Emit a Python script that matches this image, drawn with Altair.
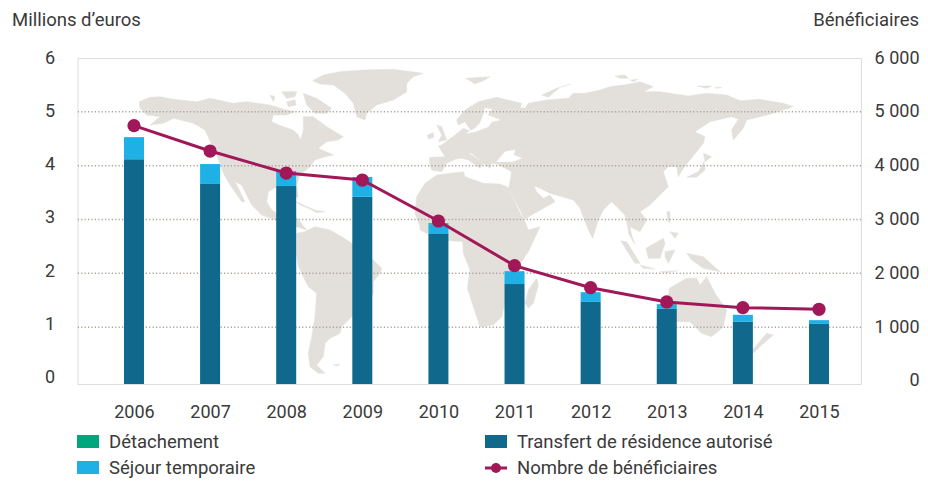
import altair as alt
import pandas as pd

YEARS = [2006, 2007, 2008, 2009, 2010, 2011, 2012, 2013, 2014, 2015]
TRANSFERT = [4.12, 3.66, 3.62, 3.42, 2.73, 1.80, 1.47, 1.34, 1.10, 1.06]
SEJOUR = [0.41, 0.37, 0.28, 0.37, 0.18, 0.24, 0.18, 0.08, 0.13, 0.07]
DETACHEMENT = [0.0, 0.0, 0.0, 0.0, 0.02, 0.0, 0.0, 0.01, 0.0, 0.0]
BENEFICIAIRES = [4743, 4272, 3863, 3733, 2972, 2142, 1733, 1468, 1362, 1332]

Y_TICKS = [0, 1, 2, 3, 4, 5, 6]
Y2_TICKS = [0, 1000, 2000, 3000, 4000, 5000, 6000]
GRID = [1, 2, 3, 4, 5]

INK = "#3a3a3a"
FONT = "Roboto"
LAND = "#e3e0db"
FRAME = "#aca298"
C_TRANSFERT = "#10688c"
C_SEJOUR = "#1fb0e6"
C_DETACH = "#00a77d"
C_LINE = "#a11858"


# Map outlines, in crop units (3x) of a given origin.
def crop(ox, oy, pts):
    return [[ox + x / 3, oy + y / 3] for x, y in pts]


NORTH_AMERICA = crop(130, 60, [
    (28, 125), (60, 112), (90, 110), (130, 118), (200, 125), (240, 115), (310, 130), (350, 125),
    (420, 135), (470, 150), (495, 155), (470, 165), (430, 165), (425, 185), (445, 195), (490, 210),
    (505, 225), (512, 240), (520, 210), (520, 170), (550, 170), (590, 200), (615, 215), (640, 230),
    (625, 240), (590, 245), (565, 265), (610, 285), (585, 290), (555, 300), (540, 320), (510, 345),
    (500, 375), (505, 410), (498, 412), (490, 385), (465, 375), (440, 380), (415, 395), (410, 425),
    (425, 450), (445, 462), (498, 470), (530, 510), (498, 500), (438, 480), (395, 465), (365, 435),
    (335, 375), (315, 365), (325, 385), (345, 425), (335, 425), (300, 375), (280, 340), (262, 290),
    (225, 210), (190, 190), (130, 175), (100, 190), (60, 195), (90, 170), (50, 165), (30, 145),
])
GREENLAND = crop(130, 60, [
    (548, 62), (580, 45), (630, 35), (700, 30), (790, 28), (880, 40), (850, 50), (830, 70), (830, 95),
    (790, 120), (740, 135), (710, 160), (705, 180), (680, 170), (670, 130), (645, 100), (610, 75), (570, 72),
])
ARCTIC_A = crop(130, 60, [(520, 100), (560, 115), (605, 145), (590, 160), (555, 160), (530, 135)])
ARCTIC_B = crop(130, 60, [(455, 95), (500, 95), (495, 110), (470, 115)])
ARCTIC_C = crop(130, 60, [(420, 105), (435, 110), (430, 125)])
ARCTIC_D = crop(130, 60, [(470, 125), (495, 120), (498, 135), (475, 140)])
CUBA = crop(130, 60, [(500, 425), (530, 440), (555, 450), (530, 443), (505, 432)])
HISPANIOLA = crop(130, 60, [(540, 448), (585, 455), (560, 458)])
SOUTH_AMERICA = crop(280, 210, [
    (50, 70), (75, 65), (105, 50), (150, 60), (185, 80), (215, 100), (275, 145), (305, 175), (300, 190),
    (280, 215), (280, 250), (260, 290), (215, 320), (185, 350), (180, 370), (150, 385), (135, 400),
    (130, 440), (110, 465), (135, 490), (115, 490), (90, 470), (85, 430), (95, 380), (105, 320),
    (110, 250), (85, 230), (55, 170), (50, 130),
])
FALKLANDS = crop(280, 210, [(160, 465), (180, 462), (175, 468)])
AFRICA = crop(400, 60, [
    (110, 345), (75, 370), (50, 410), (45, 460), (60, 500), (60, 510),
]) + crop(280, 210, [
    (420, 60), (480, 90), (548, 95), (550, 130), (570, 180), (562, 235), (580, 290), (600, 350), (640, 345),
    (665, 320), (680, 260), (712, 200), (718, 165), (745, 125), (780, 50), (745, 60), (725, 10),
]) + crop(400, 60, [(370, 480), (325, 385), (320, 380), (300, 372), (250, 370), (195, 350), (190, 335)])
MADAGASCAR = crop(280, 210, [(770, 205), (775, 225), (760, 280), (745, 295), (735, 280), (745, 240)])
EURASIA = crop(400, 60, [
    (88, 295), (90, 315), (95, 330), (125, 335), (140, 310), (165, 298), (185, 295), (205, 300), (240, 325),
    (250, 310), (205, 278), (215, 280), (255, 315), (270, 325), (275, 310), (290, 312), (335, 335), (330, 365),
    (325, 385), (375, 478), (395, 465), (465, 425), (450, 405), (430, 415), (410, 395), (402, 378), (420, 385),
    (450, 400), (520, 420), (540, 445), (565, 510),
]) + crop(590, 200, [(8, 115), (25, 60), (40, 30)]) + crop(600, 60, [(35, 425), (75, 465), (85, 510)]) + crop(590, 200, [
    (115, 100), (135, 135), (125, 105), (120, 80), (150, 95), (170, 60), (150, 35),
]) + crop(600, 60, [
    (150, 435), (205, 380), (190, 335), (205, 320), (230, 320), (235, 350), (250, 325), (310, 250), (315, 230),
    (285, 215), (330, 185), (395, 170), (415, 178), (395, 210), (400, 240), (430, 205), (440, 180), (520, 160),
    (580, 140), (550, 130), (480, 118), (420, 122), (380, 105), (320, 100), (265, 108), (180, 95), (130, 95),
    (160, 80), (120, 65), (90, 72), (30, 80), (0, 90),
]) + crop(400, 60, [
    (555, 100), (520, 100), (505, 115), (440, 120), (385, 130), (375, 145), (335, 140), (325, 150), (360, 145),
    (365, 130), (290, 112), (235, 125), (195, 150), (170, 180), (175, 195), (195, 185), (215, 215), (190, 205),
    (165, 225), (125, 255), (115, 258), (135, 290), (90, 292),
])
UK = crop(400, 60, [(110, 195), (125, 200), (140, 240), (115, 245), (125, 225)])
IRELAND = crop(400, 60, [(82, 225), (100, 218), (102, 232), (85, 237)])
SVALBARD = crop(400, 60, [(197, 55), (270, 50), (255, 60), (225, 72)])
NOVAYA = crop(400, 60, [(425, 105), (470, 85), (512, 72), (480, 82), (445, 112)])
SEVERNAYA = crop(600, 60, [(45, 48), (75, 45), (85, 55), (60, 55)])
SEVERNAYA_B = crop(600, 60, [(90, 60), (115, 58), (100, 65)])
SIBERIAN = crop(600, 60, [(292, 78), (335, 78), (320, 85)])
SIBERIAN_B = crop(600, 60, [(345, 82), (365, 82), (350, 85)])
HOKKAIDO = crop(600, 60, [(310, 280), (335, 290), (315, 305)])
HONSHU = crop(600, 60, [(312, 305), (315, 330), (290, 352), (260, 352), (295, 335)])
LUZON = crop(590, 200, [(230, 35), (240, 35), (240, 70), (235, 65)])
MINDANAO = crop(590, 200, [(240, 95), (265, 100), (255, 115)])
BORNEO = crop(590, 200, [(168, 145), (220, 115), (225, 130), (210, 175), (175, 175)])
SUMATRA = crop(590, 200, [(92, 122), (110, 125), (150, 190), (135, 190)])
JAVA = crop(590, 200, [(150, 195), (195, 207), (160, 205)])
SULAWESI = crop(590, 200, [(225, 155), (255, 150), (235, 190), (225, 170)])
NEW_GUINEA = crop(590, 200, [(290, 160), (340, 170), (390, 215), (340, 205), (305, 180)])
TIMOR = crop(590, 200, [(210, 215), (265, 212), (230, 218)])
AUSTRALIA = crop(590, 200, [
    (238, 265), (290, 235), (320, 235), (330, 255), (350, 230), (375, 280), (410, 330), (400, 380), (365, 410),
    (335, 400), (300, 365), (255, 365), (225, 375),
])
NEW_ZEALAND = crop(590, 200, [(530, 400), (550, 405), (515, 435), (490, 460), (487, 450)])

LANDS = [NORTH_AMERICA, GREENLAND, ARCTIC_A, ARCTIC_B, ARCTIC_C, ARCTIC_D, CUBA, HISPANIOLA, SOUTH_AMERICA,
         FALKLANDS, AFRICA, MADAGASCAR, EURASIA, UK, IRELAND, SVALBARD, NOVAYA, SEVERNAYA, SEVERNAYA_B,
         SIBERIAN, SIBERIAN_B, HOKKAIDO, HONSHU, LUZON, MINDANAO, BORNEO, SUMATRA, JAVA, SULAWESI,
         NEW_GUINEA, TIMOR, AUSTRALIA, NEW_ZEALAND]
BLACK_SEA = crop(400, 60, [(290, 305), (315, 275), (345, 270), (340, 285), (365, 295), (335, 305)])
BALTIC = crop(400, 60, [(255, 145), (275, 148), (262, 165), (300, 180), (275, 185), (265, 200), (225, 215),
                        (200, 220), (225, 205), (240, 190), (250, 165)])
SEAS = [BLACK_SEA, BALTIC]


def features(rings):
    return alt.InlineData(
        values={"type": "FeatureCollection", "features": [
            {"type": "Feature", "properties": {},
             "geometry": {"type": "Polygon", "coordinates": [r + [r[0]]]}} for r in rings]},
        format=alt.DataFormat(property="features", type="json"),
    )


X0, Y0 = 77.5, 58
land = alt.Chart(features(LANDS)).mark_geoshape(fill=LAND, stroke=LAND, strokeWidth=0.5).project(
    type="identity", scale=1, translate=[-X0, -Y0])
seas = alt.Chart(features(SEAS)).mark_geoshape(fill="white", stroke="white", strokeWidth=0.5).project(
    type="identity", scale=1, translate=[-X0, -Y0])

x_scale = alt.Scale(domain=[2005.258, 2015.552], nice=False, zero=False, padding=0)
y_scale = alt.Scale(domain=[-0.056, 6], nice=False, zero=False)
y2_scale = alt.Scale(domain=[-56, 6000], nice=False, zero=False)
BASE = -0.056

rows = []
for i, yr in enumerate(YEARS):
    t, s, d = TRANSFERT[i], SEJOUR[i], DETACHEMENT[i]
    rows.append({"year": yr, "lo": BASE, "hi": t, "serie": "Transfert de résidence autorisé"})
    rows.append({"year": yr, "lo": t, "hi": t + s, "serie": "Séjour temporaire"})
    if d:
        rows.append({"year": yr, "lo": t + s, "hi": t + s + d, "serie": "Détachement"})
bars_df = pd.DataFrame(rows)
line_df = pd.DataFrame({"year": YEARS, "n": BENEFICIAIRES})

x_enc = alt.X("year:Q", scale=x_scale, title=None, axis=alt.Axis(
    values=YEARS, format="d", domain=False, ticks=False, grid=False, labelPadding=19,
    labelFont=FONT, labelFontSize=18, labelColor=INK, labelFlush=False, labelOverlap=False))

grid = alt.Chart(pd.DataFrame({"v": GRID})).mark_rule(color=FRAME, strokeDash=[1.2, 2.2], strokeWidth=1.5).encode(
    y=alt.Y("v:Q", scale=y_scale, axis=None))

bars = alt.Chart(bars_df).mark_bar(size=20).encode(
    x=x_enc,
    y=alt.Y("lo:Q", scale=y_scale, title=None, axis=alt.Axis(
        values=Y_TICKS, orient="left", domain=False, ticks=False, grid=False, labelPadding=23,
        labelFont=FONT, labelFontSize=18, labelColor=INK, format="d",
        labelOffset=alt.expr("-(6-datum.value)*0.5"))),
    y2="hi:Q",
    color=alt.Color("serie:N", legend=None, scale=alt.Scale(
        domain=["Détachement", "Séjour temporaire", "Transfert de résidence autorisé"],
        range=[C_DETACH, C_SEJOUR, C_TRANSFERT])),
)

line = alt.Chart(line_df).mark_line(color=C_LINE, strokeWidth=3).encode(
    x="year:Q",
    y=alt.Y("n:Q", scale=y2_scale, title=None, axis=alt.Axis(
        values=Y2_TICKS, orient="right", domain=False, ticks=False, grid=False, labelPadding=58,
        labelAlign="right", labelFont=FONT, labelFontSize=18, labelColor=INK,
        labelExpr="datum.value == 0 ? '0' : (datum.value / 1000) + ' 000'")),
)
points = alt.Chart(line_df).mark_circle(color=C_LINE, opacity=1, size=175).encode(
    x="year:Q", y=alt.Y("n:Q", scale=y2_scale, axis=None))


def label(txt, px, py, align="left"):
    return alt.Chart(pd.DataFrame({"t": [txt]})).mark_text(
        font=FONT, fontSize=18.5, color=INK, align=align, baseline="middle").encode(
        text="t:N", x=alt.value(px - X0), y=alt.value(py - Y0))


def swatch(color, px, py):
    return alt.Chart(pd.DataFrame({"k": [0]})).mark_rect(color=color).encode(
        x=alt.value(px - X0), x2=alt.value(px + 22 - X0), y=alt.value(py - Y0), y2=alt.value(py + 13 - Y0))


legend_line = alt.Chart(pd.DataFrame({"k": [0]})).mark_rule(color=C_LINE, strokeWidth=3).encode(
    x=alt.value(485 - X0), x2=alt.value(507 - X0), y=alt.value(468 - Y0))
legend_dot = alt.Chart(pd.DataFrame({"k": [0]})).mark_circle(color=C_LINE, opacity=1, size=100).encode(
    x=alt.value(496 - X0), y=alt.value(468 - Y0))

chart = alt.layer(
    land, seas, grid, bars, line, points,
    label("Millions d’euros", 12, 20),
    label("Bénéficiaires", 919, 20, "right"),
    swatch(C_DETACH, 77, 435), label("Détachement", 109, 442),
    swatch(C_SEJOUR, 77, 461), label("Séjour temporaire", 109, 468),
    swatch(C_TRANSFERT, 485, 435), label("Transfert de résidence autorisé", 517, 442),
    legend_line, legend_dot, label("Nombre de bénéficiaires", 517, 468),
).resolve_scale(y="independent").properties(
    width=783.5, height=326,
    autosize=alt.AutoSizeParams(type="none"),
    padding={"left": 69.5, "top": 50, "right": 59, "bottom": 96},
).configure_view(stroke=FRAME, strokeWidth=1.5).configure(background="white")

chart.save("out.html", embed_options={"renderer": "svg", "actions": False})
